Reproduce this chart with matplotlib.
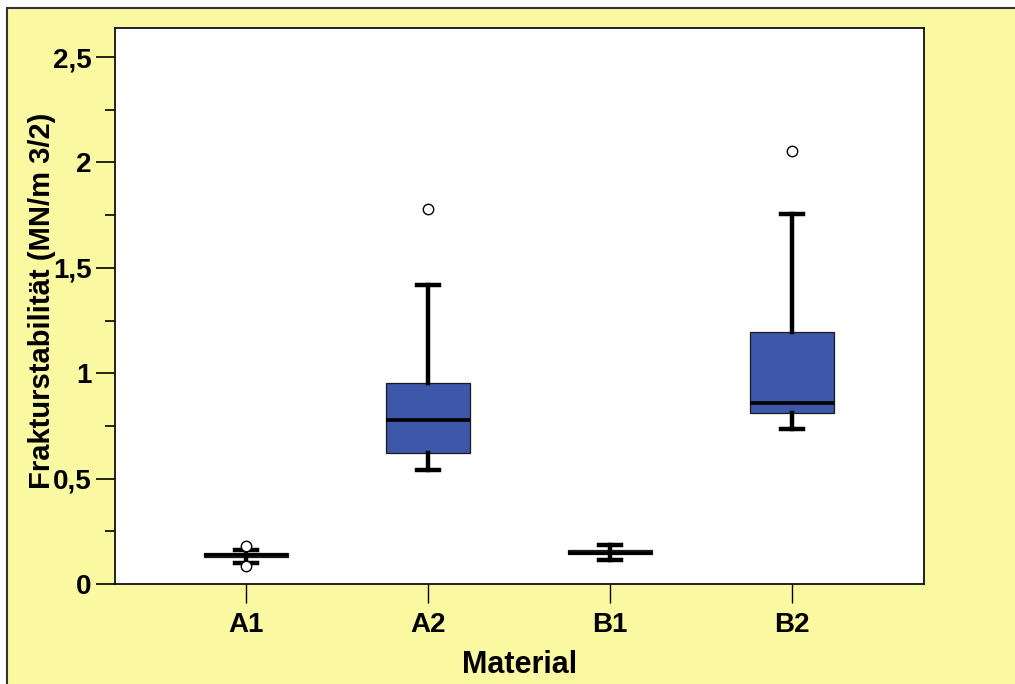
import matplotlib
matplotlib.use("Agg")
import matplotlib.pyplot as plt
from matplotlib.patches import Rectangle
from matplotlib.ticker import MultipleLocator, FuncFormatter

# Kennwerte je Material (Boxplot-Statistik)
materials = ["A1", "A2", "B1", "B2"]
q1 = [0.128, 0.62, 0.140, 0.81]
median = [0.136, 0.78, 0.148, 0.86]
q3 = [0.145, 0.955, 0.160, 1.195]
whisker_low = [0.101, 0.54, 0.114, 0.735]
whisker_high = [0.161, 1.418, 0.185, 1.755]
outliers = [[0.18, 0.085], [1.78], [], [2.055]]

yellow = "#FAF8A0"
box_blue = "#3D57A9"

plt.rcParams["font.family"] = ["Liberation Sans", "DejaVu Sans"]
plt.rcParams["font.weight"] = "bold"

fig = plt.figure(figsize=(10.15, 6.84), dpi=100, facecolor="white")
bg = Rectangle((7 / 1015, -0.05), 1.1, 1.05 - 8 / 684, transform=fig.transFigure,
               facecolor=yellow, edgecolor="#333333", linewidth=1.5, zorder=-10)
fig.add_artist(bg)

ax = fig.add_axes([115 / 1015, 1 - 584 / 684, 809 / 1015, 556 / 684])
ax.set_facecolor("white")

stats = []
for i, name in enumerate(materials):
    stats.append(dict(label=name, q1=q1[i], med=median[i], q3=q3[i],
                      whislo=whisker_low[i], whishi=whisker_high[i],
                      fliers=outliers[i]))

positions = [1, 2, 3, 4]
ax.bxp(stats, positions=positions, widths=0.46, capwidths=0.12,
       patch_artist=True, showfliers=True,
       boxprops=dict(facecolor=box_blue, edgecolor="#1a1a1a", linewidth=0.9),
       medianprops=dict(color="black", linewidth=2.6),
       whiskerprops=dict(color="black", linewidth=3.2),
       capprops=dict(color="black", linewidth=3.2),
       flierprops=dict(marker="o", markerfacecolor="white",
                       markeredgecolor="black", markersize=7.5, markeredgewidth=1.0))

ax.set_xlim(0.28, 4.725)
ax.set_ylim(0, 2.638)
ax.yaxis.set_major_locator(MultipleLocator(0.5))
ax.yaxis.set_minor_locator(MultipleLocator(0.25))
ax.yaxis.set_major_formatter(FuncFormatter(
    lambda v, p: ("%g" % v).replace(".", ",")))
ax.set_xticks(positions)
ax.set_xticklabels(materials)

ax.tick_params(axis="y", which="major", length=14, width=1.2, labelsize=20, pad=3)
ax.tick_params(axis="y", which="minor", length=7, width=1.2)
ax.tick_params(axis="x", which="major", length=14, width=1.0, labelsize=20, pad=6)
for lbl in ax.get_xticklabels() + ax.get_yticklabels():
    lbl.set_fontweight("bold")

for sp in ax.spines.values():
    sp.set_linewidth(1.3)
    sp.set_color("#111111")

ax.set_ylabel("Frakturstabilität (MN/m 3/2)", fontsize=21, fontweight="bold")
ax.yaxis.set_label_coords(-0.073, 0.51)
ax.set_xlabel("Material", fontsize=22, fontweight="bold")
ax.xaxis.set_label_coords(0.5, -0.118)

fig.savefig("out.png", dpi=100, facecolor=fig.get_facecolor())
